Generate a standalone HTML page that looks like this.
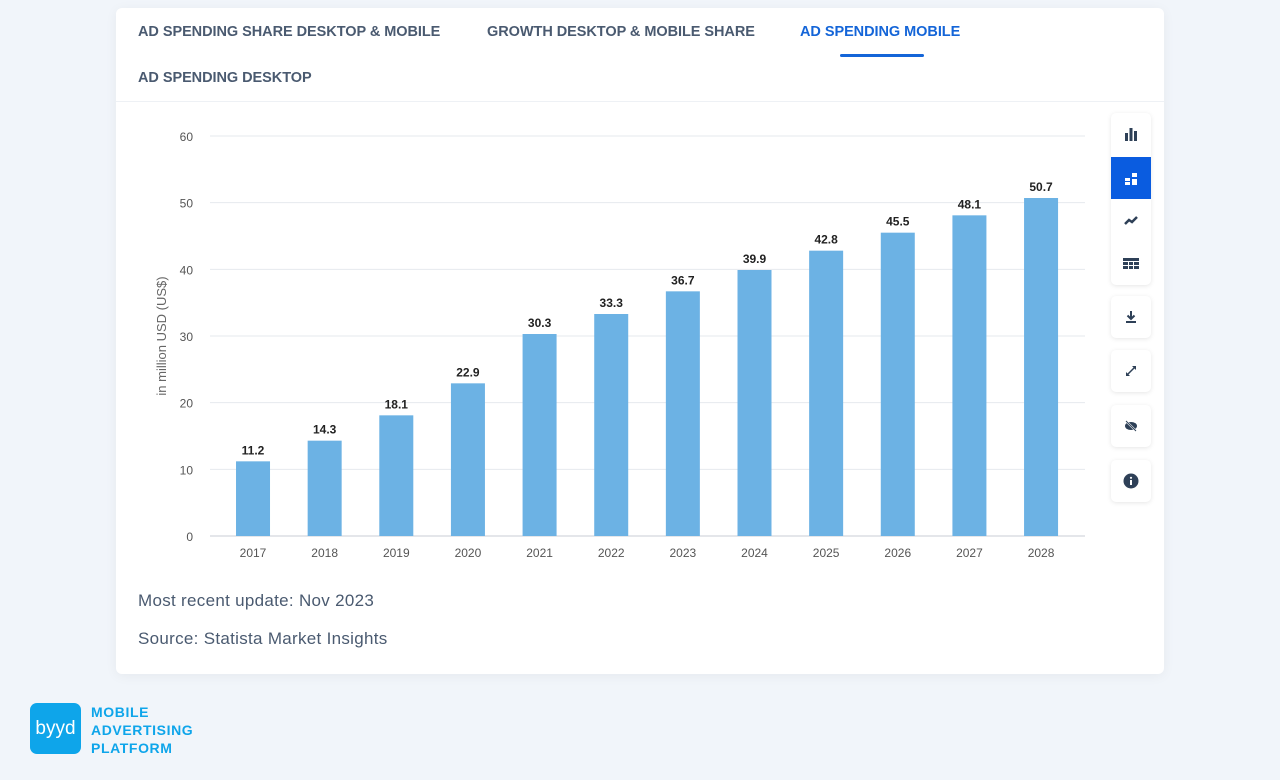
<!DOCTYPE html>
<html><head><meta charset="utf-8">
<style>
body{margin:0;width:1280px;height:780px;background:#f1f5fa;font-family:"Liberation Sans",sans-serif;position:relative;overflow:hidden}
.card{position:absolute;left:116px;top:8px;width:1048px;height:666px;background:#fff;border-radius:6px;box-shadow:0 2px 12px rgba(0,0,0,0.05)}
.tab{position:absolute;font-size:14.5px;font-weight:bold;color:#4a5a70;letter-spacing:-0.05px}
.tab.active{color:#1465d8}
.tb{position:absolute;left:1111px;width:40px;background:#fff;border-radius:5px;box-shadow:0 1px 5px rgba(0,0,0,0.1)}
.ic{position:absolute;left:1111px;width:40px;height:42px;display:flex;align-items:center;justify-content:center}
.note{position:absolute;left:138px;font-size:17px;color:#4a5a70;letter-spacing:0.3px}
</style></head><body>
<div class="card"></div>
<div class="tab" style="left:138px;top:24px">AD SPENDING SHARE DESKTOP &amp; MOBILE</div>
<div class="tab" style="left:487px;top:24px">GROWTH DESKTOP &amp; MOBILE SHARE</div>
<div class="tab active" style="left:800px;top:24px">AD SPENDING MOBILE</div>
<div style="position:absolute;left:840px;top:54px;width:84px;height:3px;background:#1465d8;border-radius:2px"></div>
<div class="tab" style="left:138px;top:70px">AD SPENDING DESKTOP</div>
<div style="position:absolute;left:116px;top:101px;width:1048px;height:1px;background:#eef1f5"></div>

<div class="tb" style="top:113px;height:172px"></div>
<div class="ic" style="top:113px"><svg width="14" height="14"><rect x="1" y="6" width="3" height="8" fill="#2e4057"/><rect x="5.5" y="1" width="3" height="13" fill="#2e4057"/><rect x="10" y="4" width="3" height="10" fill="#2e4057"/></svg></div>
<div class="ic" style="top:157px;background:#0a5ce0;height:42px"><svg width="14" height="14"><rect x="1" y="7" width="5" height="3" fill="#fff"/><rect x="1" y="11" width="5" height="3" fill="#fff"/><rect x="8" y="2" width="5" height="4" fill="#fff"/><rect x="8" y="8" width="5" height="6" fill="#fff"/></svg></div>
<div class="ic" style="top:199px"><svg width="14" height="14"><path d="M1 11 L5 7 L8 9 L13 4" stroke="#2e4057" stroke-width="2.5" fill="none"/></svg></div>
<div class="ic" style="top:242px"><svg width="16" height="14"><g fill="#2e4057"><rect x="0" y="2" width="16" height="3"/><rect x="0" y="6" width="16" height="3"/><rect x="0" y="10" width="16" height="3"/></g><g fill="#fff"><rect x="5" y="5" width="1" height="8"/><rect x="10" y="5" width="1" height="8"/></g></svg></div>
<div class="tb" style="top:296px;height:42px"></div>
<div class="ic" style="top:296px"><svg width="14" height="14"><path d="M7 1V9M3.5 5.5L7 9L10.5 5.5" stroke="#2e4057" stroke-width="2" fill="none"/><rect x="2" y="11" width="10" height="2" fill="#2e4057"/></svg></div>
<div class="tb" style="top:350px;height:42px"></div>
<div class="ic" style="top:350px"><svg width="14" height="14"><path d="M3 11L11 3" stroke="#2e4057" stroke-width="1.5"/><path d="M8 2h4v4zM2 8v4h4z" fill="#2e4057"/></svg></div>
<div class="tb" style="top:405px;height:42px"></div>
<div class="ic" style="top:405px"><svg width="14" height="14"><ellipse cx="7" cy="7" rx="6" ry="4" fill="#2e4057"/><path d="M2 2L12 12" stroke="#fff" stroke-width="2"/><path d="M2 2L12 12" stroke="#2e4057" stroke-width="1"/></svg></div>
<div class="tb" style="top:460px;height:42px"></div>
<div class="ic" style="top:460px"><svg width="16" height="16"><circle cx="8" cy="8" r="7.5" fill="#2e4057"/><rect x="7" y="7" width="2" height="5" fill="#fff"/><circle cx="8" cy="4.8" r="1.1" fill="#fff"/></svg></div>

<svg id="chart" style="position:absolute;left:0;top:0" width="1280" height="780"></svg>

<div class="note" style="top:591px">Most recent update: Nov 2023</div>
<div class="note" style="top:629px">Source: Statista Market Insights</div>

<div style="position:absolute;left:30px;top:703px;width:51px;height:51px;background:#0ea5ea;border-radius:7px;color:#fff;font-size:19px;display:flex;align-items:center;justify-content:center">byyd</div>
<div style="position:absolute;left:91px;top:703px;font-size:14px;font-weight:bold;color:#0ea5ea;line-height:18px;letter-spacing:0.6px">MOBILE<br>ADVERTISING<br>PLATFORM</div>

<script>
const categories=["2017","2018","2019","2020","2021","2022","2023","2024","2025","2026","2027","2028"];
const values=[11.2,14.3,18.1,22.9,30.3,33.3,36.7,39.9,42.8,45.5,48.1,50.7];
const yTicks=[0,10,20,30,40,50,60];
const NS="http://www.w3.org/2000/svg";
const svg=document.getElementById('chart');
const y0=536,y1=136,yMax=60,left=210,right=1085,bx0=217.2,step=71.64,bw=34;
const y=v=>y0-(v/yMax)*(y0-y1);
const x=i=>bx0+step*i+step/2;
function mk(t,a,txt){const e=document.createElementNS(NS,t);for(const k in a)e.setAttribute(k,a[k]);if(txt!=null)e.textContent=txt;svg.appendChild(e);return e;}
yTicks.forEach(t=>{
 const g=mk('line',{x1:left,x2:right,y1:y(t),y2:y(t),stroke:t===0?'#c9ced6':'#e6e9ee','stroke-width':1});
 
 
 const l=mk('text',{x:193,y:y(t)+5,'text-anchor':'end','font-size':12,fill:'#555','font-family':'Liberation Sans, sans-serif'},t);
 
 
});
const yt=mk('text',{transform:'translate(166,336) rotate(-90)','text-anchor':'middle','font-size':13,fill:'#666','font-family':'Liberation Sans, sans-serif'},'in million USD (US$)');


categories.forEach((c,i)=>{
 const cx=x(i);
 const r=mk('rect',{x:cx-bw/2,y:y(values[i]),width:bw,height:y0-y(values[i]),fill:'#6cb2e4'});
 
 
 const v=mk('text',{x:cx,y:y(values[i])-7,'text-anchor':'middle','font-size':12,'font-weight':'bold',fill:'#222','font-family':'Liberation Sans, sans-serif'},values[i].toFixed(1));
 
 
 const l=mk('text',{x:cx,y:557,'text-anchor':'middle','font-size':12,fill:'#555','font-family':'Liberation Sans, sans-serif'},c);
 
 
});
</script>
</body></html>
